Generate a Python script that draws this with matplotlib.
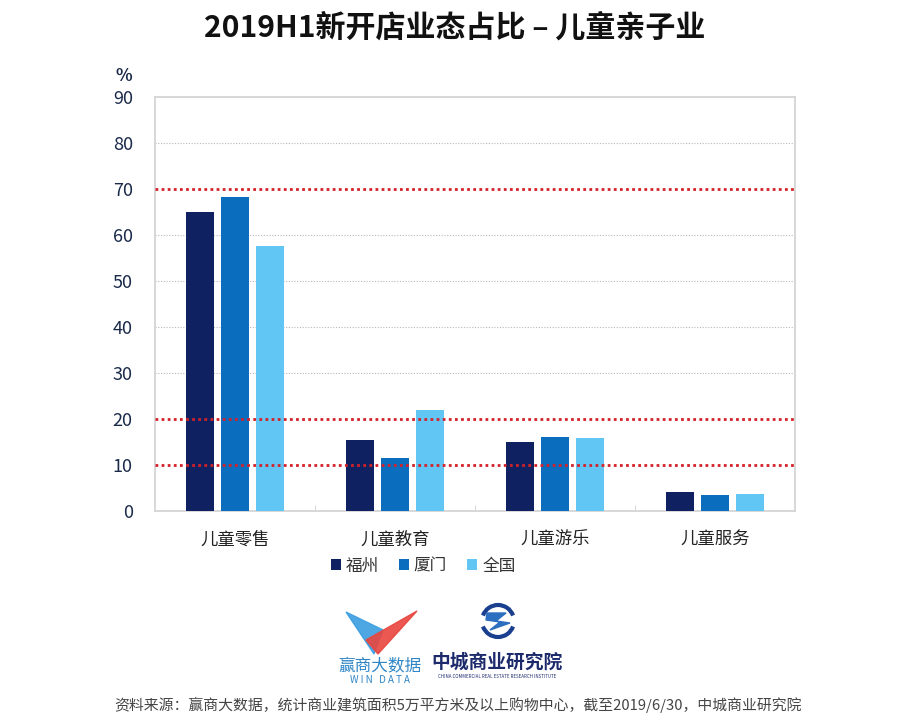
import matplotlib.pyplot as plt
import numpy as np
from matplotlib.patches import Polygon, Arc

plt.rcParams['font.family'] = ['Noto Sans CJK SC', 'DejaVu Sans']

categories = ['儿童零售', '儿童教育', '儿童游乐', '儿童服务']
series_names = ['福州', '厦门', '全国']
fuzhou = [65.0, 15.4, 14.9, 4.1]
xiamen = [68.3, 11.6, 16.1, 3.5]
quanguo = [57.5, 22.0, 15.9, 3.8]
ref_lines = [70, 20, 10]
yticks = [0, 10, 20, 30, 40, 50, 60, 70, 80, 90]

colors = ['#0f2160', '#0b6dbd', '#62c6f5']
title = '2019H1新开店业态占比 – 儿童亲子业'
source = '资料来源：赢商大数据，统计商业建筑面积5万平方米及以上购物中心，截至2019/6/30，中城商业研究院'

fig = plt.figure(figsize=(9.08, 7.24), dpi=100)
ax = fig.add_axes([155/908, 1-511/724, 640/908, 414/724])

x = np.arange(len(categories))
w = 0.172
step = 0.22
for i, (vals, name) in enumerate(zip([fuzhou, xiamen, quanguo], series_names)):
    ax.bar(x + (i-1)*step, vals, w, color=colors[i], label=name, zorder=3)

ax.set_xlim(-0.5, len(categories)-0.5)
ax.set_ylim(0, 90)
ax.set_yticks(yticks)
ax.set_xticks(x)
ax.set_xticklabels(categories, fontsize=12.5, color='#222222')
ax.set_xticks(np.arange(0.5, len(categories)-1, 1), minor=True)
ax.tick_params(axis='x', which='major', length=0, pad=14)
ax.tick_params(axis='x', which='minor', length=4, color='#d0d0d0', direction='in')
ax.tick_params(axis='y', length=0, pad=16, labelsize=13, labelcolor='#1a2a4a')
for s in ax.spines.values():
    s.set_color('#d4d4d4')
    s.set_linewidth(1.3)

for t in yticks[1:-1]:
    if t not in ref_lines:
        ax.axhline(t, color='#b8b8b8', lw=0.8, ls=(0, (1, 1.5)), zorder=1)
for t in ref_lines:
    ax.axhline(t, color='#d42029', lw=2, ls=(0, (1, 1.2)), zorder=4)

ax.text(-0.036, 1.03, '%', transform=ax.transAxes, fontsize=12.5, color='#1a2a4a',
        ha='right', va='bottom', fontweight='bold')

leg = fig.legend(loc='center', bbox_to_anchor=(423/908, 1-566/724), ncol=3, frameon=False,
                 fontsize=12, handlelength=0.6, handleheight=0.6, handletextpad=0.3,
                 columnspacing=1.2)
for t in leg.get_texts():
    t.set_color('#333333')

fig.text(455/908, 1-28/724, title, fontsize=21.6, fontweight='bold', ha='center', va='center',
         color='#111111')
fig.text(458/908, 1-705/724, source, fontsize=10.7, ha='center', va='center', color='#444444')

# logos
lg = fig.add_axes([0, 0, 1, 1])
lg.set_xlim(0, 908)
lg.set_ylim(724, 0)
lg.axis('off')
lg.add_patch(Polygon([(346, 612), (383, 630), (374, 654)], closed=True, color='#3b9ee0', alpha=0.9))
lg.add_patch(Polygon([(417, 611), (366, 640), (378, 654)], closed=True, color='#e8463e', alpha=0.9))
lg.text(380, 666, '赢商大数据', fontsize=12, ha='center', va='center', color='#2f86c6')
lg.text(380, 680, 'W I N   D A T A', fontsize=7, ha='center', va='center', color='#2f86c6')

lg.add_patch(Arc((498, 621), 32, 32, theta1=20, theta2=160, color='#1b3f8f', lw=3))
lg.add_patch(Arc((498, 621), 32, 32, theta1=200, theta2=340, color='#1b3f8f', lw=3))
lg.add_patch(Polygon([(487, 613), (506, 613), (496, 621), (510, 623), (490, 630), (500, 622), (486, 620)],
                     closed=True, color='#2c6fc0'))
lg.text(497, 662, '中城商业研究院', fontsize=13.5, fontweight='bold', ha='center', va='center',
        color='#1c2a6b')
lg.text(497, 677, 'CHINA COMMERCIAL REAL ESTATE RESEARCH INSTITUTE', fontsize=3.2, ha='center',
        va='center', color='#1c2a6b')

fig.savefig('out.png', dpi=100)
